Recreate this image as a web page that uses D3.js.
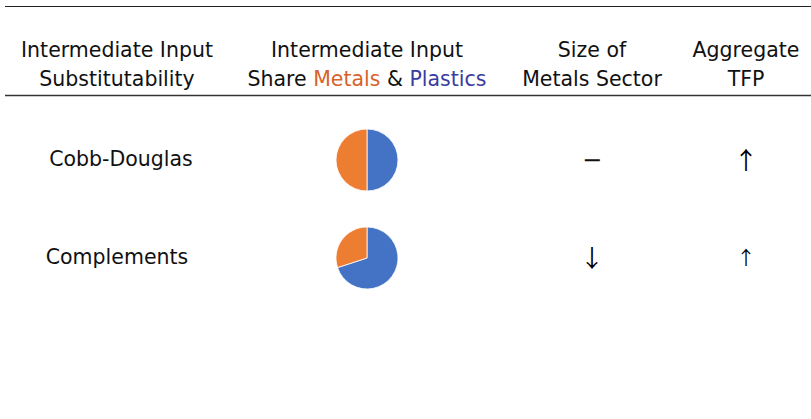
<!DOCTYPE html>
<html>
<head>
<meta charset="utf-8">
<script src="https://cdn.jsdelivr.net/npm/d3@7/dist/d3.min.js"></script>
<style>
  html, body { margin: 0; padding: 0; background: #fff; }
  svg { display: block; }
  text { font-family: "DejaVu Sans", sans-serif; fill: #111; }
  text.arrow { font-family: "Noto Sans CJK JP", "DejaVu Sans", sans-serif; font-weight: 400; fill: #000; }
</style>
</head>
<body>
<svg id="chart" width="811" height="419"></svg>
<script>
// Table rows: input substitutability scenarios
const scenarios = ["Cobb-Douglas", "Complements"];
// Intermediate input shares per scenario
const plasticsShare = [0.5, 0.7];
const metalsShare = [0.5, 0.3];
// Qualitative effects
const metalsSizeEffect = ["\u2212", "\u2193"];
const tfpEffect = ["\u2191", "\u2191"];
const tfpMagnitude = ["large", "small"];
// Column headers (two lines each)
const headers = [
  ["Intermediate Input", "Substitutability"],
  ["Intermediate Input", null],
  ["Size of", "Metals Sector"],
  ["Aggregate", "TFP"]
];

const W = 811, H = 419;
const svg = d3.select("#chart");

const colX = d3.scaleOrdinal().domain([0, 1, 2, 3]).range([117, 367, 592, 746]);
const rowY = d3.scalePoint().domain(scenarios).range([160, 258]);

const seriesColor = d3.scaleOrdinal().domain(["Plastics", "Metals"]).range(["#4472C4", "#ED7D31"]);
const labelColor = { Metals: "#D9622B", Plastics: "#3B3BA0" };

const fs = 20.5;

// Rules
svg.append("line").attr("x1", 5).attr("x2", W).attr("y1", 6.5).attr("y2", 6.5)
  .attr("stroke", "#222").attr("stroke-width", 1);
svg.append("line").attr("x1", 5).attr("x2", W).attr("y1", 95.5).attr("y2", 95.5)
  .attr("stroke", "#333").attr("stroke-width", 1.4);

// Headers
headers.forEach((h, i) => {
  svg.append("text").attr("x", colX(i)).attr("y", 57).attr("text-anchor", "middle")
    .attr("font-size", fs).text(h[0]);
  if (h[1] !== null) {
    svg.append("text").attr("x", colX(i)).attr("y", 86).attr("text-anchor", "middle")
      .attr("font-size", fs).text(h[1]);
  }
});
const share = svg.append("text").attr("x", colX(1)).attr("y", 86).attr("text-anchor", "middle")
  .attr("font-size", fs);
share.append("tspan").text("Share ");
share.append("tspan").style("fill", labelColor.Metals).text("Metals");
share.append("tspan").text(" & ");
share.append("tspan").style("fill", labelColor.Plastics).text("Plastics");

// Row labels
svg.selectAll("text.row").data(scenarios).join("text").attr("class", "row")
  .attr("x", (d, i) => colX(0) + (i === 0 ? 4 : 0)).attr("y", d => rowY(d) + 6).attr("text-anchor", "middle")
  .attr("font-size", fs).text(d => d);

// Pies
const pie = d3.pie().sort(null).value(d => d.value);
const arc = d3.arc().innerRadius(0).outerRadius(31);
scenarios.forEach((s, i) => {
  const data = [
    { key: "Plastics", value: plasticsShare[i] },
    { key: "Metals", value: metalsShare[i] }
  ];
  svg.append("g").attr("transform", `translate(${colX(1)},${rowY(s)})`)
    .selectAll("path").data(pie(data)).join("path")
    .attr("d", arc).attr("fill", d => seriesColor(d.data.key))
    .attr("stroke", "#fff").attr("stroke-width", 0.8);
});

// Effect symbols: [font size, baseline offset, arrow glyph?]
const symbolStyle = {
  "\u2212": [24, 8, false],
  "\u2193": [24, 9, true],
  large: [24, 9, true],
  small: [19, 7, true]
};

svg.selectAll("text.size").data(scenarios).join("text")
  .each(function (d, i) {
    const st = symbolStyle[metalsSizeEffect[i]];
    d3.select(this).attr("class", st[2] ? "size arrow" : "size")
      .attr("x", colX(2)).attr("y", rowY(d) + st[1])
      .attr("text-anchor", "middle").attr("font-size", st[0])
      .text(metalsSizeEffect[i]);
  });

svg.selectAll("text.tfp").data(scenarios).join("text")
  .each(function (d, i) {
    const st = symbolStyle[tfpMagnitude[i]];
    d3.select(this).attr("class", "tfp arrow")
      .attr("x", colX(3)).attr("y", rowY(d) + st[1])
      .attr("text-anchor", "middle").attr("font-size", st[0])
      .text(tfpEffect[i]);
  });
</script>
</body>
</html>
